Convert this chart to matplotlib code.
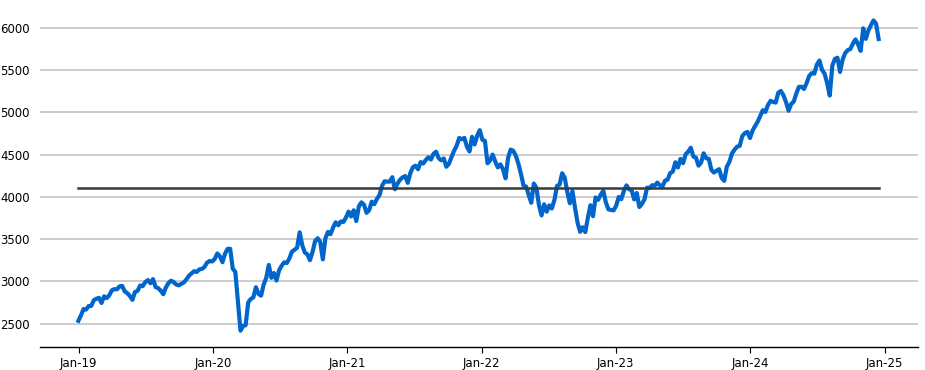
import matplotlib
matplotlib.use("Agg")
import matplotlib.pyplot as plt
import matplotlib.dates as mdates
import numpy as np
import pandas as pd

# weekly index level, one value per week (week starting Monday 2018-12-31)
start_week = "2018-12-31"
values = [
    # 2019
    2532, 2596, 2671, 2665, 2707, 2708, 2776, 2793, 2804, 2743, 2822, 2801, 2834,
    2893, 2907, 2905, 2940, 2946, 2881, 2860, 2826, 2780, 2873, 2887, 2950, 2942,
    2990, 3014, 2977, 3026, 2932, 2919, 2889, 2847, 2926, 2979, 3007, 2992, 2962,
    2952, 2970, 2986, 3023, 3067, 3093, 3120, 3110, 3141, 3146, 3169, 3221, 3240,
    # 2020
    3235, 3265, 3330, 3295, 3226, 3328, 3385, 3385, 3150, 3110, 2760, 2415, 2470,
    2480, 2750, 2790, 2810, 2930, 2850, 2830, 2960, 3040, 3194, 3041, 3098, 3009,
    3130, 3185, 3225, 3216, 3271, 3351, 3373, 3397, 3580, 3427, 3341, 3319, 3250,
    3348, 3477, 3510, 3465, 3260, 3509, 3585, 3558, 3638, 3699, 3663, 3709, 3703,
    3756,
    # 2021
    3825, 3768, 3841, 3714, 3887, 3935, 3907, 3811, 3842, 3943, 3913, 3975, 4020,
    4129, 4185, 4180, 4181, 4233, 4090, 4156, 4204, 4230, 4247, 4166, 4281, 4352,
    4370, 4327, 4412, 4395, 4437, 4468, 4442, 4509, 4535, 4459, 4433, 4455, 4357,
    4391, 4471, 4545, 4605, 4698, 4683, 4698, 4595, 4538, 4712, 4621, 4726, 4790,
    # 2022
    4677, 4663, 4398, 4432, 4501, 4419, 4349, 4385, 4329, 4220, 4463, 4560, 4546,
    4488, 4393, 4272, 4132, 4123, 4024, 3930, 4158, 4109, 3901, 3780, 3912, 3825,
    3899, 3863, 3962, 4130, 4145, 4280, 4228, 4058, 3924, 4067, 3873, 3693, 3586,
    3640, 3583, 3753, 3901, 3771, 3993, 3965, 4026, 4072, 3934, 3852, 3845, 3840,
    # 2023
    3895, 3999, 3973, 4071, 4136, 4090, 4079, 3970, 4046, 3880, 3917, 3971, 4109,
    4105, 4138, 4134, 4169, 4136, 4124, 4192, 4205, 4282, 4299, 4410, 4348, 4450,
    4399, 4505, 4536, 4582, 4478, 4464, 4370, 4406, 4516, 4457, 4450, 4320, 4288,
    4309, 4328, 4224, 4190, 4358, 4415, 4514, 4559, 4595, 4604, 4719, 4755, 4770,
    # 2024
    4697, 4784, 4840, 4891, 4959, 5027, 5006, 5089, 5137, 5124, 5117, 5234, 5254,
    5204, 5123, 5020, 5100, 5128, 5223, 5303, 5305, 5278, 5347, 5432, 5465, 5460,
    5567, 5615, 5505, 5459, 5347, 5200, 5554, 5635, 5648, 5480, 5626, 5703, 5738,
    5751, 5815, 5865, 5808, 5729, 5996, 5871, 5969, 6032, 6090, 6051, 5870,
]
mean_level = 4110
y_ticks = [2500, 3000, 3500, 4000, 4500, 5000, 5500, 6000]
x_tick_years = [2019, 2020, 2021, 2022, 2023, 2024, 2025]

dates = pd.date_range(start_week, periods=len(values), freq="W-MON")

fig = plt.figure(figsize=(9.25, 3.7), dpi=100)
ax = fig.add_axes([0.043, 0.062, 0.949, 0.938])

ax.plot(dates, values, color="#0066cc", lw=3.0, solid_joinstyle="round", zorder=3)
ax.plot([dates[0], dates[-1]], [mean_level, mean_level], color="#3a3a3a", lw=1.8, zorder=4)

ax.set_xlim(pd.Timestamp("2018-09-17"), pd.Timestamp("2025-04-01"))
ax.set_ylim(2221, 6332)

ax.set_yticks(y_ticks)
ax.set_xticks([pd.Timestamp(f"{y}-01-01") for y in x_tick_years])
ax.xaxis.set_major_formatter(mdates.DateFormatter("%b-%y"))

ax.grid(axis="y", color="#c4c4c4", lw=1.2)
ax.set_axisbelow(True)

for side in ["top", "right", "left"]:
    ax.spines[side].set_visible(False)
ax.spines["bottom"].set_color("black")
ax.spines["bottom"].set_linewidth(1.0)

ax.tick_params(axis="y", length=0, pad=7, labelsize=8.5)
ax.tick_params(axis="x", length=4, width=0.8, pad=3, labelsize=8.5)

fig.savefig("out.png", dpi=100)
